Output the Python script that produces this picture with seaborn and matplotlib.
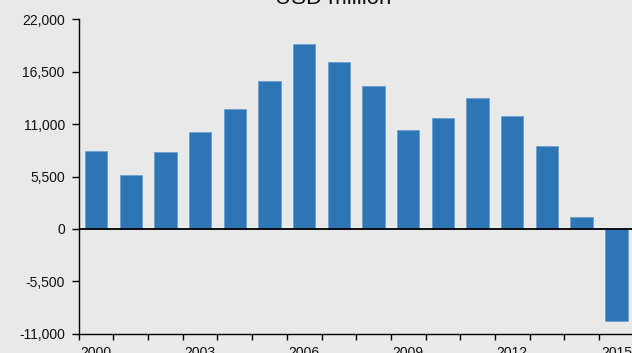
import matplotlib
matplotlib.use("Agg")
import matplotlib.pyplot as plt
from matplotlib.ticker import FixedLocator, FuncFormatter
import seaborn as sns
import pandas as pd

years = list(range(2000, 2016))
values = [8200, 5650, 8050, 10150, 12550, 15500, 19400, 17500,
          15000, 10400, 11600, 13750, 11850, 8650, 1250, -9650]
y_ticks = [-11000, -5500, 0, 5500, 11000, 16500, 22000]
x_label_years = [2000, 2003, 2006, 2009, 2012, 2015]

bg = "#E9E9E9"
bar_color = "#2E75B6"

sns.set_theme(style="white")
plt.rcParams["font.family"] = ["Liberation Sans", "DejaVu Sans"]

df = pd.DataFrame({"year": [str(y) for y in years], "value": values})

fig = plt.figure(figsize=(6.32, 3.53), dpi=100, facecolor=bg)
ax = fig.add_axes([78.7 / 632, (353 - 333.7) / 353, 555 / 632, 314.4 / 353])
ax.set_facecolor(bg)

sns.barplot(data=df, x="year", y="value", color=bar_color, saturation=1,
            width=0.645, edgecolor="#6F9FD0", linewidth=0.6, ax=ax)

ax.set_xlim(-0.5, len(years) - 0.5)
ax.set_ylim(y_ticks[0], y_ticks[-1])
ax.axhline(0, color="black", lw=1.3, zorder=3)

# y axis
ax.yaxis.set_major_locator(FixedLocator(y_ticks))
ax.yaxis.set_major_formatter(FuncFormatter(lambda v, p: f"{int(v):,}"))
ax.tick_params(axis="y", which="major", direction="out", length=5, width=1,
               color="black", pad=5, labelsize=10, labelcolor="#111111", left=True)

# x axis: labels at category centres, tick marks at category boundaries
label_pos = [years.index(y) for y in x_label_years]
ax.xaxis.set_major_locator(FixedLocator(label_pos))
ax.set_xticklabels([str(y) for y in x_label_years])
ax.xaxis.set_minor_locator(FixedLocator([i - 0.5 for i in range(len(years) + 1)]))
ax.tick_params(axis="x", which="major", length=0, pad=8.5, labelsize=10,
               labelcolor="#111111", bottom=True)
ax.tick_params(axis="x", which="minor", direction="out", length=4, width=1,
               color="black", bottom=True)

for side in ["top", "right"]:
    ax.spines[side].set_visible(False)
for side in ["left", "bottom"]:
    ax.spines[side].set_color("black")
    ax.spines[side].set_linewidth(1)

ax.set_xlabel("")
ax.set_ylabel("")

fig.text(333 / 632, 349.5 / 353, "USD million", ha="center", va="baseline",
         fontsize=16, color="#111111")

fig.savefig("out.png", dpi=100, facecolor=bg)
